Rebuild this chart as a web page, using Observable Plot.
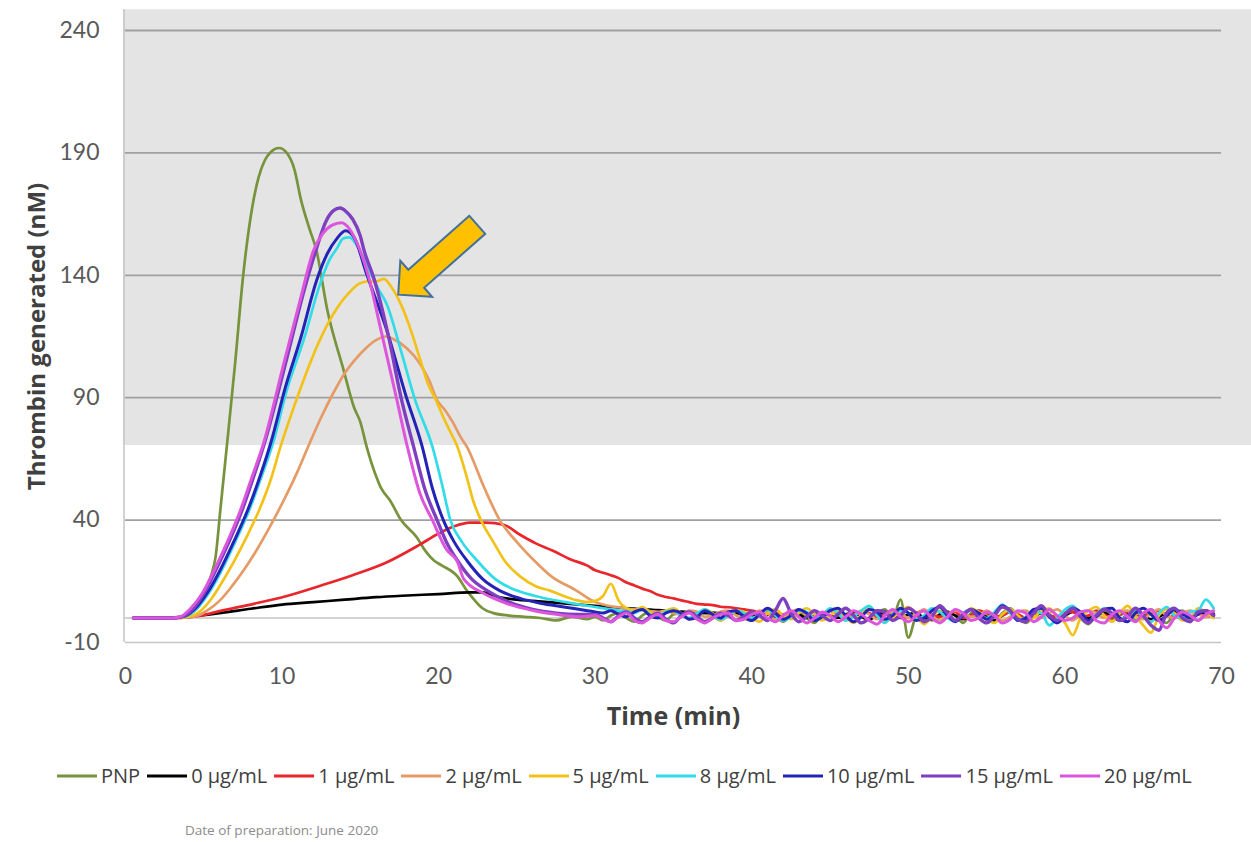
<!DOCTYPE html>
<html><head><meta charset="utf-8">
<script src="https://cdn.jsdelivr.net/npm/d3@7"></script>
<script src="https://cdn.jsdelivr.net/npm/@observablehq/plot@0.6"></script>
<style>
body{margin:0;background:#fff;font-family:Lato,"Open Sans",sans-serif;}
#wrap{position:relative;width:1251px;height:842px;overflow:hidden;background:#fff;}
#chart{position:absolute;left:0;top:0;}
#legend{position:absolute;left:57px;top:762px;display:flex;align-items:center;font-family:"Open Sans",sans-serif;font-size:20px;color:#404040;white-space:nowrap;}
.item{display:flex;align-items:center;margin-right:7px;}
.item svg{margin-right:4px;}
#caption{position:absolute;left:185px;top:821px;font-family:"Open Sans",sans-serif;font-size:13.5px;color:#8c8c8c;}
</style></head><body>
<div id="wrap"><div id="chart"></div><div id="legend"></div><div id="caption">Date of preparation: June 2020</div></div>
<script>
const seriesNames = ["PNP","0 μg/mL","1 μg/mL","2 μg/mL","5 μg/mL","8 μg/mL","10 μg/mL","15 μg/mL","20 μg/mL"];
const seriesColors = ["#77933c","#000000","#e8262b","#e59b66","#f2c21b","#30dce8","#2323b8","#7e3fc0","#dd55dd"];
const xTicks = [0,10,20,30,40,50,60,70];
const yTicks = [-10,40,90,140,190,240];

// main curves [time (min), thrombin (nM)]
const pnpMain = [[0.5,0],[2,0],[3,0.2],[3.5,0.6],[4,1.5],[4.5,3.5],[4.8,5.8],[5.2,12.6],[5.5,18],[5.75,24.8],[6.07,45],[6.5,72],[7,104],[7.5,139],[8.1,168],[8.5,180],[8.9,187],[9.3,190.5],[9.8,192],[10.3,190],[10.8,183],[11.2,171],[11.7,160],[12.2,150],[12.9,125.5],[13.9,102],[14.6,86],[15,80],[15.4,70],[16,58],[16.3,53.4],[16.9,48],[17.6,40],[18.6,33],[19.2,27],[19.7,23.5],[20.2,21.5],[21.2,17],[21.8,11.2],[22.2,8],[22.8,4],[23.5,2],[24.5,1],[25.5,0.5],[26.5,0],[27.5,-1],[28.5,0.5],[29.5,-0.5]];
const c0Main = [[0.5,0],[2,0],[3,0],[4,0.5],[6,2],[8,3.8],[10,5.5],[12,6.5],[14,7.5],[16,8.5],[18,9.2],[20,9.8],[22,10.5],[22.8,10.5],[23.9,8.5],[25,7.5],[26,7],[27,6.5],[28,6],[29,5.5]];
const c1Main = [[0.5,0],[3,0],[4,0.3],[4.8,1],[6,2.8],[8.2,5.8],[10.3,9],[12.5,13.3],[14.5,17.5],[16.7,22.8],[18.8,30],[20,34.5],[21,37.5],[22,39],[23,39],[24.2,38],[25.2,34],[26.2,30.5],[27.3,27.5],[28.4,24],[29.5,21.4]];
const c2Main = [[0.5,0],[3,0],[4.4,0.6],[5.2,3],[6,7],[6.8,13],[7.6,20],[8.4,28],[9.2,37],[10.1,48],[11,60],[11.8,72],[12.5,82],[13.2,91],[13.9,99],[14.6,105],[15.4,110.5],[16,113.5],[16.6,115],[17.1,114],[18,110],[18.8,104],[19.4,97],[19.9,89],[20.4,85],[20.9,80],[21.4,74],[21.8,70],[22.9,53.4],[23.9,40],[25,31],[26.1,23.5],[27.2,17],[28.8,11.2],[29.7,7.5]];
const c5Main = [[0.5,0],[3,0],[4,0.5],[4.8,3],[5.5,8],[6.2,15],[7,24],[7.8,34],[8.6,45],[9.3,57],[9.9,70],[10.8,87],[11.6,101],[12.3,112],[12.9,120],[13.6,127.5],[14.3,133],[14.9,136.5],[15.5,137.5],[16,137.5],[16.5,138.5],[17,135],[17.6,128],[18.2,118],[18.8,106],[19.3,96],[19.9,88],[20.3,82],[20.75,76],[21.2,70],[21.8,57.5],[22.2,48],[22.7,40],[23.5,31],[24.2,23.5],[25.2,17],[26.2,13],[27.1,11.2],[28.2,8.5],[29,7],[29.5,6.5]];
const c8Main = [[0.5,0],[3,0],[3.9,0.8],[4.5,3.5],[5.3,10],[6.1,19],[7,31],[7.9,44],[8.7,58],[9.4,71],[10.3,93],[11.4,114],[12.4,136],[13,146],[13.5,151],[13.9,155],[14.3,155.5],[14.8,152],[15.5,143],[16.1,135],[16.7,128],[17.6,109],[18.5,89],[19.6,70],[20.2,55],[20.75,40],[21.5,31],[22.45,23.5],[23.6,16],[25,11.2],[26.5,8.5],[28.2,6.4],[29.5,5]];
const c10Main = [[0.5,0],[3,0],[3.8,0.8],[4.4,3.5],[5.2,10],[6,19],[6.9,31],[7.8,44],[8.6,58],[9.3,72],[10.2,94],[11.2,114.6],[12.2,137.8],[12.9,149],[13.5,155],[14.05,158.2],[14.6,155.5],[15.4,140.5],[16.7,117.3],[17.9,91],[18.95,70],[19.6,53],[20.3,40],[21,31],[21.8,23.5],[22.8,16],[23.9,11.2],[25.2,8],[26.5,6],[28,4.5],[29.5,3]];
const c15Main = [[0.5,0],[3,0],[3.6,0.5],[4.2,3],[5,10],[5.8,20],[6.6,31],[7.5,45],[8.2,58],[8.9,72],[10.3,106],[11.4,133.7],[12.2,151],[12.8,162],[13.3,166.5],[13.7,167.5],[14.1,166],[14.5,163],[15,156],[15.2,151],[15.9,138],[16.8,115],[17.6,90],[18.4,70],[19.1,53],[19.9,40],[20.5,31],[21.2,23.5],[22.1,16],[23.1,11.2],[24.5,6.5],[26,3.5],[27.5,2],[29,1.5]];
const c20Main = [[0.5,0],[3,0],[3.5,0.5],[4.1,3.5],[4.9,10],[5.7,20],[6.5,31],[7.4,45],[8.1,58],[8.8,71],[10.1,103.7],[11.2,131],[12,150],[12.6,157],[13.2,160.5],[13.8,161.5],[14.3,159],[14.8,153],[15.5,140],[16.3,118],[17.3,90],[18,70],[18.8,51],[19.6,40],[20.5,28],[21.2,23],[21.6,16],[22.9,10],[24.4,5.8],[26.1,3],[27.5,1.5],[29,0.5]];

// tails: values every 0.5 min from 30 to 69.5
const pnpTail = [0.5,-1,1,2,0,-1.5,1,2.5,0.5,-1, 1.5,2,-0.5,0,2.5,1,-1,1.5,3,0, -1,2,3,0.5,-1.5,1,2.5,0,-2,1.5, 3,1,-1,2,0.5,-1,2,3.5,0,7.5, -8,1,3,-1,0.5,2.5,1,-2,2,3, 0,-1.5,2,4,1,-2,0.5,3,1.5,-1, 2,4,0,-2.5,1.5,3,-0.5,1,2.5,-1, 1,3.5,0,-2,2,3,0.5,-1,1.5,2];
const c0Tail = [5,4.8,4.5,4.3,4,3.8,3.5,3.4,3.2,3, 2.8,2.6,2.5,2.3,2,2.2,1.8,1.5,2,1.5, 1,2,1.5,0.5,1,2,1.5,0,1,2, 1,0,1.5,2,0.5,-0.5,1,2.5,1,0, 1.5,2,0,-0.5,1.5,2.5,1,-0.5,1,2, 0.5,-1,1,2.5,1.5,-0.5,0.5,2,1,-0.5, 1,2.5,1.5,0,1,2,0.5,-1,1.5,2.5, 1,-0.5,0.5,2,2.5,1,0,1.5,2,1];
const c1Tail = [19.5,18.5,17.5,16.3,14.5,13.3,12,11,9.5,8.6, 8,7.2,6.5,5.8,5.5,5.3,4.6,4.4,4,3.5, 3,2.5,3,2,1.5,2.5,3,1.5,0.5,2, 3,1.5,0,1,2.5,2,0.5,1.5,3,1, 0,2,3,1.5,0.5,2,2.5,0,1,3, 2,0.5,1,2.5,1.5,0,2,3,1,0.5, 2,2.5,0.5,1,3,1.5,0,1.5,2.5,1, 0.5,2,3,1,0,1.5,2.5,2,0.5,1.5];
const c2Tail = [6.5,5.5,4.8,4.4,3.8,3.5,3.2,2.8,2.5,3, 2,1.5,3,2.5,0.5,1,2.5,3,1,0, 1.5,3,2,-0.5,0.5,2.5,3.5,1,-1,1, 3,2,0,1,3,1.5,-0.5,1,2.5,2, 0,1.5,3.5,1,-1,1.5,3,2,0.5,1, 3,1,-1,0.5,2.5,3,1,0,2,3.5, 1,-1,1.5,3,2,0,1,2.5,3,0.5, -0.5,2,3.5,1,0,2,3,1.5,0.5,2.5];
const c5Tail = [7,9,14,7,4,3,4.5,2.5,1,3, 4,2,0,1.5,3.5,2,-1,1,3,2.5, 0,-1.5,2,3.5,1,-0.5,2,4,1.5,-1, 1,3,0.5,-2,1.5,4,2,-1,0,3, 4.5,1,-2.5,0.5,3,2,-1,1,4,2.5, -0.5,-2,1.5,3.5,1,-1.5,0,3,4,0.5, -2,-7,0,3,4.5,1,-1.5,2,5,1, -3,-6,1,3.5,2,-1,0,4,2.5,0];
const c8Tail = [4.5,4,3.5,3,2.8,2,3.5,1.5,0.5,2.5, 3,1,0,2,3.5,1.5,-0.5,1,3,2, 0,1.5,3.5,1,-1,0.5,3,2.5,0,1, 4,2,-1,0.5,3,5,1,-2,1.5,3, 2,-0.5,1,4,2.5,0,-1.5,2,3.5,1, 0,2.5,5.5,2,-1,0.5,3,2,-3,0, 3.5,5,1,-1,1.5,4,2,-0.5,1,3, 0.5,-1.5,2,4.5,1,0,2.5,3,7.5,4];
const c10Tail = [2.5,2,3,1.5,0.5,2.5,3.5,1,0,2, 3,2,-0.5,0.5,3,1.5,0,2.5,3,0.5, -1,1.5,4,2,-0.5,1,3.5,2,-1,0.5, 3,4,1,-1.5,0.5,3.5,2.5,-0.5,1,4, 2,-1,0,3,4.5,1,-1.5,1,3.5,2, -0.5,1.5,5,3,-1,0,3.5,4,0.5,-2, 1,4,2.5,-1,0.5,3.5,4,0,-1.5,2, 4,1.5,-1,1,3.5,2,0,1.5,3,1.5];
const c15Tail = [1.5,0,-1.5,1,2.5,0,-1.5,0.5,2,-0.5, -2,1,2.5,0.5,-1.5,0,2,1,-1,0.5, 2.5,1,-1,3,8,2,-1.5,0.5,3,1, -1,1.5,4,1,-2,0,3,2.5,-1,1, 4,2,-1.5,0.5,5,2,-1,1.5,3.5,0, -2,1,4.5,3,-0.5,-1.5,2,5,1,-1, 1.5,4,0.5,-2,1,3.5,2,-1,0.5,4, 1,-3,-5,2,4,0,-1.5,2.5,3,1];
const c20Tail = [1,-0.5,-1.5,0.5,2,-1,-2,0,1.5,-1, -1.5,0.5,2,-0.5,-2,0,1.5,2,-1,-0.5, 1.5,2.5,0,-1.5,1,3,0.5,-2,0,2.5, 1,-1.5,0.5,3,1.5,-1,-2.5,1,3.5,0.5, -1.5,1,3,0,-2,0.5,3.5,2,-1,0, 2.5,1,-2,-0.5,3,2,-1.5,0.5,3.5,1, -1,0,2.5,3,-1,-2,1.5,3,0.5,-1.5, 2,3.5,-1,-4,0,2.5,1,-1,1.5,3];

const shadeBand = [{x1:-0.13, x2:72, y1:70.5, y2:248.5}];
const arrowFrom = {t:22.5, v:160.4};
const arrowTo = {t:17.45, v:131.9};

const mains = [pnpMain,c0Main,c1Main,c2Main,c5Main,c8Main,c10Main,c15Main,c20Main];
const tails = [pnpTail,c0Tail,c1Tail,c2Tail,c5Tail,c8Tail,c10Tail,c15Tail,c20Tail];
const tailTimes = d3.range(30, 70, 0.5);

const rows = [];
seriesNames.forEach((name, i) => {
  mains[i].forEach(([t, v]) => rows.push({series: name, t, v}));
  tails[i].forEach((v, j) => rows.push({series: name, t: tailTimes[j], v}));
});

function arrowMark(index, scales) {
  const x0 = scales.x(arrowFrom.t), y0 = scales.y(arrowFrom.v);
  const x1 = scales.x(arrowTo.t), y1 = scales.y(arrowTo.v);
  const dx = x1 - x0, dy = y1 - y0, L = Math.hypot(dx, dy);
  const ux = dx / L, uy = dy / L, nx = -uy, ny = ux;
  const hw = 12, hh = 24, hl = 24;
  const bx = x1 - ux * hl, by = y1 - uy * hl;
  const pts = [[x0+nx*hw,y0+ny*hw],[bx+nx*hw,by+ny*hw],[bx+nx*hh,by+ny*hh],[x1,y1],[bx-nx*hh,by-ny*hh],[bx-nx*hw,by-ny*hw],[x0-nx*hw,y0-ny*hw]];
  const g = document.createElementNS("http://www.w3.org/2000/svg", "g");
  const p = document.createElementNS("http://www.w3.org/2000/svg", "polygon");
  p.setAttribute("points", pts.map(d => d.join(",")).join(" "));
  p.setAttribute("fill", "#ffc000");
  p.setAttribute("stroke", "#41719c");
  p.setAttribute("stroke-width", "2");
  p.setAttribute("stroke-linejoin", "miter");
  g.appendChild(p);
  return g;
}

const widths = {"15 μg/mL": 3.4, "20 μg/mL": 3, "10 μg/mL": 3};
const font = "Lato, 'Open Sans', sans-serif";
const chart = Plot.plot({
  width: 1251, height: 745,
  marginLeft: 125, marginRight: 30, marginTop: 30, marginBottom: 103,
  x: {domain: [0, 70]},
  y: {domain: [-10, 240]},
  color: {domain: seriesNames, range: seriesColors},
  style: {fontFamily: font, background: "transparent", overflow: "visible"},
  marks: [
    Plot.rect(shadeBand, {x1: "x1", x2: "x2", y1: "y1", y2: "y2", fill: "#e4e4e4"}),
    Plot.ruleY(yTicks.filter(d => d > -10), {stroke: "#a0a0a0", strokeWidth: 1.8}),
    Plot.ruleY([0], {stroke: "#c4c4c4", strokeWidth: 1.5}),
    Plot.ruleY([-10], {stroke: "#c4c4c4", strokeWidth: 1.5}),
    Plot.ruleX([0], {y1: -10, y2: 248.5, stroke: "#c4c4c4", strokeWidth: 1.5, dx: -1.5}),
    ...seriesNames.map(name => Plot.line(rows.filter(d => d.series === name), {
      x: "t", y: "v", stroke: "series", curve: "monotone-x",
      strokeWidth: widths[name] || 2.7
    })),
    arrowMark,
    Plot.axisX({ticks: xTicks, tickSize: 0, tickPadding: 25, fontSize: 23, color: "#595959", label: null, tickFormat: d => String(d)}),
    Plot.axisY({ticks: yTicks, tickSize: 0, tickPadding: 26, fontSize: 23, color: "#595959", label: null, tickFormat: d => String(d)}),
    Plot.text(["Time (min)"], {frameAnchor: "bottom", dy: 82, fontSize: 25, fontWeight: "bold", fill: "#404040", fontFamily: "'Open Sans', sans-serif"}),
    Plot.text(["Thrombin generated (nM)"], {frameAnchor: "left", textAnchor: "middle", dx: -88, rotate: -90, fontSize: 24, fontWeight: "bold", fill: "#404040", fontFamily: "'Open Sans', sans-serif"})
  ]
});
document.getElementById("chart").appendChild(chart);

const legend = document.getElementById("legend");
seriesNames.forEach((name, i) => {
  const item = document.createElement("div");
  item.className = "item";
  item.innerHTML = `<svg width="40" height="10"><line x1="0" y1="5" x2="40" y2="5" stroke="${seriesColors[i]}" stroke-width="3"/></svg><span>${name}</span>`;
  legend.appendChild(item);
});
</script>
</body></html>
